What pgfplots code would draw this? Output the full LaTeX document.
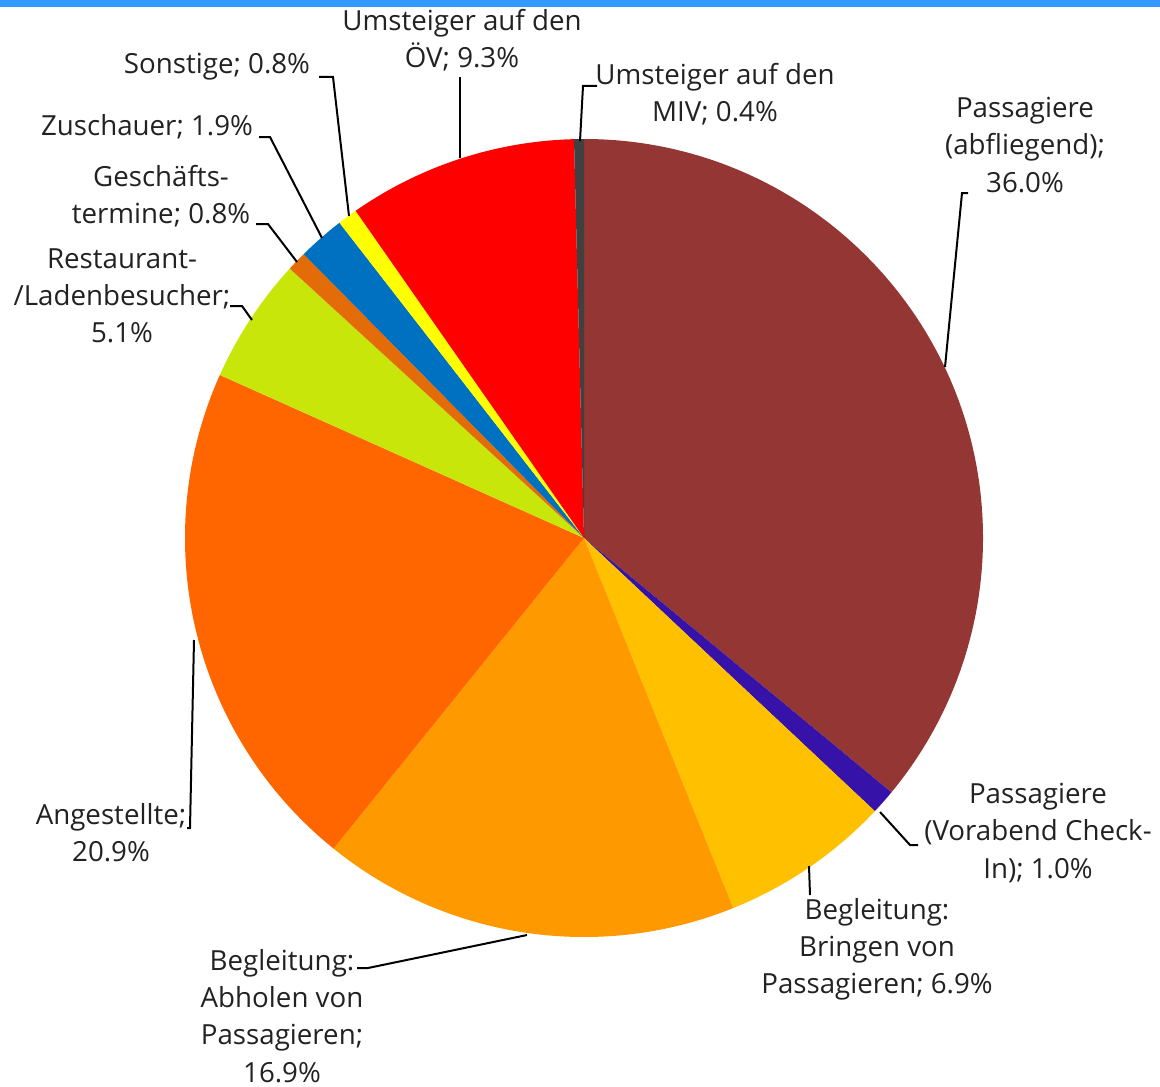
\documentclass[border=0pt]{standalone}
\usepackage{pgfplots}
\pgfplotsset{compat=1.18}
\usepackage{fontspec}
\setmainfont{Open Sans}
\definecolor{cBrown}{HTML}{943634}
\definecolor{cPurple}{HTML}{3612A8}
\definecolor{cGold}{HTML}{FFC000}
\definecolor{cOrange}{HTML}{FF9900}
\definecolor{cDark}{HTML}{FF6600}
\definecolor{cLime}{HTML}{C8E60A}
\definecolor{cRust}{HTML}{E36C09}
\definecolor{cBlue}{HTML}{0070C0}
\definecolor{cYellow}{HTML}{FFFF00}
\definecolor{cRed}{HTML}{FF0000}
\definecolor{cGray}{HTML}{404040}
\definecolor{cBar}{HTML}{3399FF}
\definecolor{cText}{HTML}{222222}
\tikzset{lbl/.style={font=\fontsize{13.85}{18.6}\selectfont, text=cText, align=center, inner sep=0pt}}
\def\cum{0}
% one pie slice: #1 = share in percent, #2 = colour
\newcommand\slice[2]{%
  \pgfmathsetmacro\sa{90-3.6*\cum}%
  \pgfmathsetmacro\newcum{\cum+#1}%
  \pgfmathsetmacro\se{90-3.6*\newcum}%
  \edef\tmp{\noexpand\fill[#2] (axis cs:584,538) -- ++(\sa:199.5pt) arc[start angle=\sa, end angle=\se, radius=199.5pt] -- cycle;}%
  \tmp
  \global\let\cum\newcum}
\begin{document}
\begin{tikzpicture}
\begin{axis}[
  scale only axis, width=580pt, height=543pt,
  xmin=0, xmax=1160, ymin=0, ymax=1086, y dir=reverse,
  hide axis, clip=false,
]
\fill[cBar] (axis cs:0,0) rectangle (axis cs:1160,7);
\slice{36.0}{cBrown}
\slice{1.0}{cPurple}
\slice{6.9}{cGold}
\slice{16.9}{cOrange}
\slice{20.9}{cDark}
\slice{5.1}{cLime}
\slice{0.8}{cRust}
\slice{1.9}{cBlue}
\slice{0.8}{cYellow}
\slice{9.3}{cRed}
\slice{0.4}{cGray}
% leader lines
\begin{scope}[line width=1pt, black]
\draw (axis cs:319,77) -- (axis cs:333,77) -- (axis cs:349,216);
\draw (axis cs:259,137) -- (axis cs:270,137) -- (axis cs:322,238);
\draw (axis cs:256,224) -- (axis cs:268,224) -- (axis cs:297,262);
\draw (axis cs:230,306) -- (axis cs:242,306) -- (axis cs:252,320);
\draw (axis cs:187,828) -- (axis cs:190,828) -- (axis cs:194,640);
\draw (axis cs:357,968) -- (axis cs:368,968) -- (axis cs:527,935);
\draw (axis cs:810,895) -- (axis cs:809,866);
\draw (axis cs:918,845) -- (axis cs:910,845) -- (axis cs:880,812);
\draw (axis cs:968,193) -- (axis cs:962,193) -- (axis cs:945,367);
\draw (axis cs:597,86) -- (axis cs:583,86) -- (axis cs:580,141);
\draw (axis cs:460,77) -- (axis cs:460,158);
\end{scope}
% labels
\node[lbl] at (axis cs:462,40) {Umsteiger auf den\\ÖV; 9.3\%};
\node[lbl] at (axis cs:715,94) {Umsteiger auf den\\MIV; 0.4\%};
\node[lbl] at (axis cs:1025,145) {Passagiere\\(abfliegend);\\36.0\%};
\node[lbl] at (axis cs:1038,833) {Passagiere\\(Vorabend Check-\\In); 1.0\%};
\node[lbl] at (axis cs:877,949) {Begleitung:\\Bringen von\\Passagieren; 6.9\%};
\node[lbl] at (axis cs:282,1016) {Begleitung:\\Abholen von\\Passagieren;\\16.9\%};
\node[lbl] at (axis cs:111,833) {Angestellte;\\20.9\%};
\node[lbl] at (axis cs:122,296) {Restaurant-\\/Ladenbesucher;\\5.1\%};
\node[lbl] at (axis cs:161,196) {Geschäfts-\\termine; 0.8\%};
\node[lbl] at (axis cs:147,127) {Zuschauer; 1.9\%};
\node[lbl] at (axis cs:217,67) {Sonstige; 0.8\%};
\end{axis}
\pgfresetboundingbox
\path (current axis.south west) rectangle (current axis.north east);
\end{tikzpicture}
\end{document}
